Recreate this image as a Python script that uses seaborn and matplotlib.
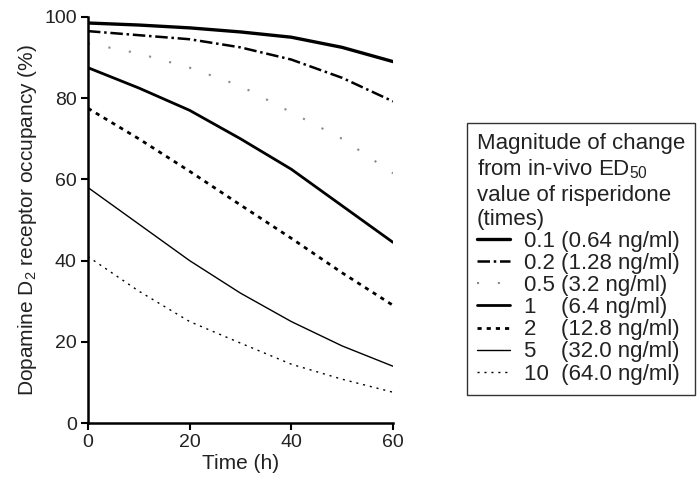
import matplotlib
matplotlib.use("Agg")
import matplotlib.pyplot as plt
import seaborn as sns
import pandas as pd

times = [0, 10, 20, 30, 40, 50, 60]
occ_01 = [98.5, 98.0, 97.3, 96.3, 95.0, 92.5, 89.0]
occ_02 = [96.5, 95.5, 94.5, 92.5, 89.5, 85.0, 79.2]
occ_05 = [93.5, 91.0, 87.5, 83.0, 76.5, 70.0, 61.5]
occ_1 = [87.5, 82.5, 77.0, 70.0, 62.5, 53.5, 44.5]
occ_2 = [77.5, 70.0, 62.0, 53.7, 45.5, 37.0, 29.0]
occ_5 = [58.0, 49.0, 40.0, 32.0, 25.0, 19.0, 14.0]
occ_10 = [41.0, 32.5, 25.0, 19.7, 14.5, 10.8, 7.6]

labels = ["0.1 (0.64 ng/ml)", "0.2 (1.28 ng/ml)", "0.5 (3.2 ng/ml)",
          "1    (6.4 ng/ml)", "2    (12.8 ng/ml)", "5    (32.0 ng/ml)",
          "10  (64.0 ng/ml)"]
series = [occ_01, occ_02, occ_05, occ_1, occ_2, occ_5, occ_10]

styles = [
    dict(color="black", lw=2.4, ls="-"),
    dict(color="black", lw=1.8, ls=(0, (5, 1.5, 1, 1.5))),
    dict(color="#8a8a8a", lw=1.5, ls=(0, (1, 9))),
    dict(color="black", lw=2.0, ls="-"),
    dict(color="black", lw=2.0, ls=(0, (1.5, 1.8))),
    dict(color="black", lw=1.0, ls="-"),
    dict(color="black", lw=1.0, ls=(0, (1.5, 3.5))),
]

df = pd.concat([pd.DataFrame({"time": times, "occ": s, "label": l})
                for s, l in zip(series, labels)])

sns.set_style("ticks")
plt.rcParams["font.family"] = ["Liberation Sans", "DejaVu Sans"]
plt.rcParams["mathtext.fontset"] = "custom"
plt.rcParams["mathtext.rm"] = "Liberation Sans"

fig = plt.figure(figsize=(6.98, 4.83), dpi=100)
ax = fig.add_axes([0.126, 0.124, 0.437, 0.841])

for lab, st in zip(labels, styles):
    sub = df[df["label"] == lab]
    sns.lineplot(data=sub, x="time", y="occ", ax=ax, color=st["color"],
                 linewidth=st["lw"], linestyle=st["ls"], label=lab)

ax.set_xlim(0, 60)
ax.set_ylim(0, 100)
ax.set_xticks([0, 20, 40, 60])
ax.set_yticks([0, 20, 40, 60, 80, 100])
ax.tick_params(labelsize=14, direction="out", length=5, width=1.5,
               colors="black", labelcolor="#222222", pad=3)
for sp in ["top", "right"]:
    ax.spines[sp].set_visible(False)
for sp in ["left", "bottom"]:
    ax.spines[sp].set_linewidth(1.8)
    ax.spines[sp].set_color("black")
ax.set_xlabel("Time (h)", fontsize=15, color="#222222", labelpad=2)
ax.set_ylabel("Dopamine D$_{\\mathrm{2}}$ receptor occupancy (%)", fontsize=15,
              color="#222222", labelpad=4)

handles, labs = ax.get_legend_handles_labels()
ax.get_legend().remove()
leg = fig.legend(handles, labs,
                 title="Magnitude of change\nfrom in-vivo ED$_{\\mathrm{50}}$\nvalue of risperidone\n(times)",
                 loc="upper left", bbox_to_anchor=(0.669, 0.745),
                 fontsize=16, title_fontsize=16, frameon=True, fancybox=False,
                 edgecolor="black", handlelength=1.5, labelspacing=0.05,
                 borderpad=0.45, handletextpad=0.6, borderaxespad=0)
leg.get_frame().set_linewidth(1.0)
leg._legend_box.align = "left"
for t in leg.get_texts():
    t.set_color("#222222")
leg.get_title().set_color("#222222")

fig.savefig("out.png", dpi=100)
